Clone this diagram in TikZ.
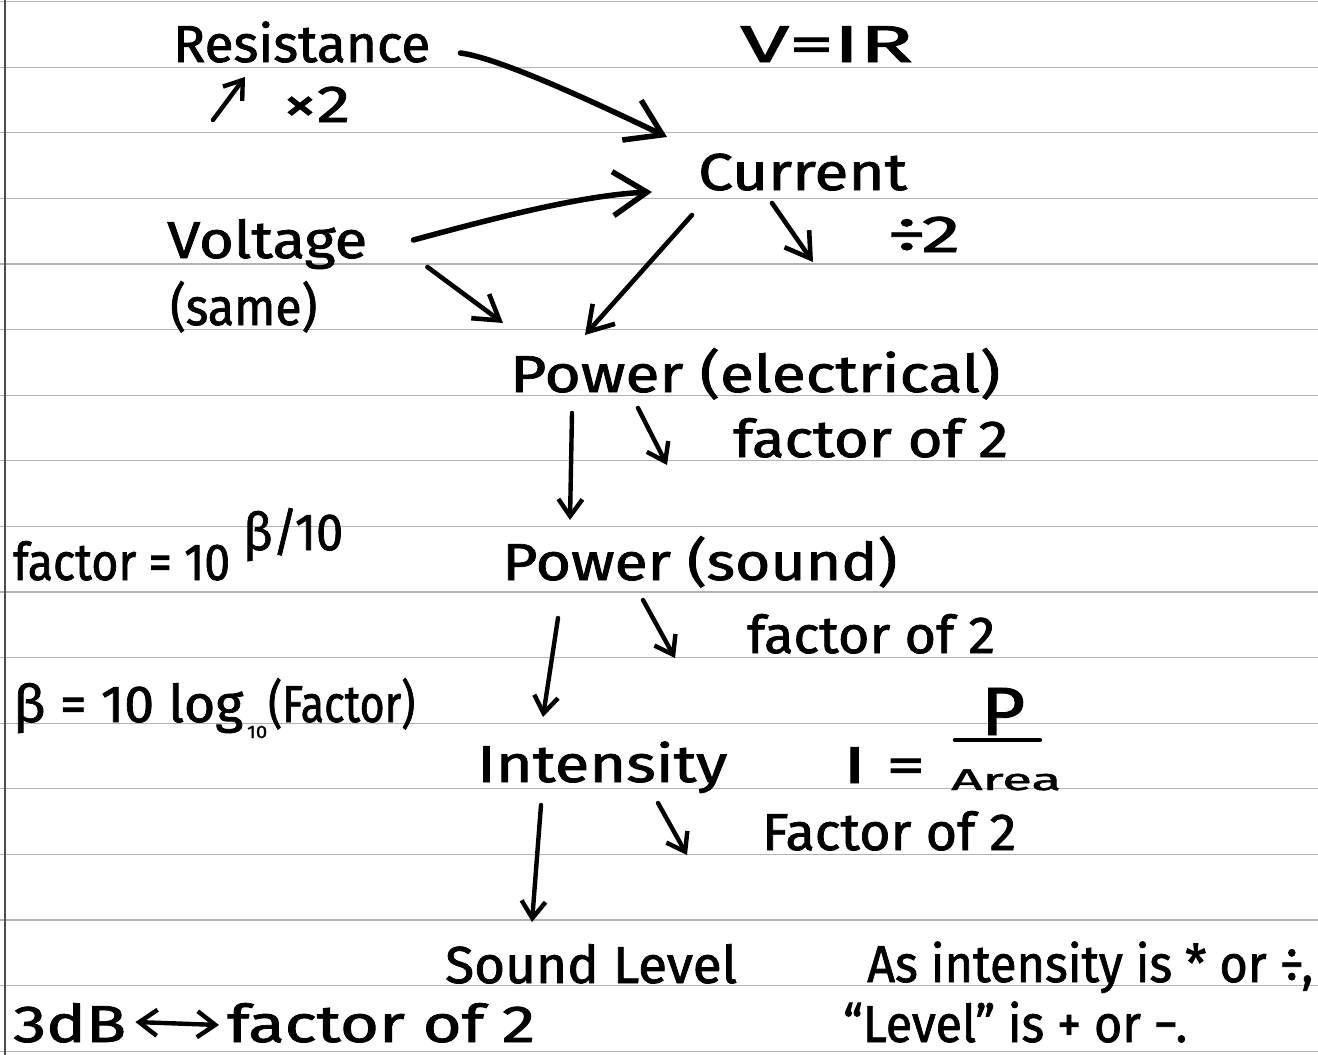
\documentclass[tikz,border=0pt]{standalone}
\usepackage{graphicx}
\usepackage{fontspec}
\setmainfont{Fira Sans}[FakeBold=1.4]
\usetikzlibrary{arrows.meta}
\newcommand\hwf{\fontsize{52pt}{60pt}\selectfont}
\newcommand\hwsmall{\fontsize{30pt}{34pt}\selectfont}
\newcommand\hwtiny{\fontsize{18pt}{20pt}\selectfont}
\newcommand\fitw[2]{\resizebox{#1pt}{\height}{#2}}
\begin{document}
\begin{tikzpicture}[x=1pt,y=-1pt,
  hw/.style={inner sep=0pt, anchor=base west, font=\hwf},
  rule/.style={gray!60, line width=1.2pt},
  bigarr/.style={line width=5.5pt, line cap=round, -{Straight Barb[length=34pt,width=44pt]}},
  medarr/.style={line width=4.6pt, line cap=round, -{Straight Barb[length=24pt,width=30pt]}},
  smallarr/.style={line width=4.4pt, line cap=round, -{Straight Barb[length=17pt,width=24pt]}},
  dblarr/.style={line width=4.4pt, line cap=round, {Straight Barb[length=18pt,width=26pt]}-{Straight Barb[length=18pt,width=26pt]}},
]
\useasboundingbox (0,0) rectangle (1318,1055);
\fill[white] (0,0) rectangle (1318,1055);
% ruled paper
\foreach \k in {0,...,16} \draw[rule] (0,{1.5+65.6*\k}) -- (1318,{1.5+65.6*\k});
\draw[line width=2pt, gray!60!black] (5,0) -- (5,1055);

% texts
\node[hw] (res) at (173,62) {\fitw{257}{Resistance}};
\node[hw] (x2) at (283,122) {\fitw{67}{×2}};
\node[hw] (vir) at (740,62) {\fitw{173}{V=IR}};
\node[hw] (cur) at (698,190) {\fitw{209}{Current}};
\node[hw] (div) at (887,252) {\fitw{73}{÷2}};
\node[hw] (volt) at (167,258) {\fitw{200}{Voltage}};
\node[hw] (same) at (170,325) {\fitw{147}{(same)}};
\node[hw] (pe) at (510,392) {\fitw{490}{Power (electrical)}};
\node[hw] (f1) at (733,457) {\fitw{275}{factor of 2}};
\node[hw] (fac) at (13,580) {\fitw{217}{factor = 10}};
\node[hw] (bexp) at (243,550) {\fitw{100}{β/10}};
\node[hw] (ps) at (502,580) {\fitw{395}{Power (sound)}};
\node[hw] (f2) at (747,653) {\fitw{248}{factor of 2}};
\node[hw] (blog) at (13,722) {\fitw{230}{β = 10 log}};
\node[hw, font=\hwtiny] (sub) at (247,738) {\fitw{20}{10}};
\node[hw] (fpar) at (268,722) {\fitw{147}{(Factor)}};
\node[hw] (int) at (477,782) {\fitw{250}{Intensity}};
\node[hw] (ieq) at (843,783) {\fitw{82}{I =}};
\node[hw] (P) at (981,735) {\resizebox{44pt}{47pt}{P}};
\node[hw, font=\hwsmall] (area) at (951,790) {\fitw{110}{Area}};
\draw[line width=4.4pt, line cap=round] (955,740) -- (1040,740);
\node[hw] (f3) at (762,850) {\fitw{254}{Factor of 2}};
\node[hw] (sl) at (445,983) {\fitw{292}{Sound Level}};
\node[hw] (as) at (867,982) {\fitw{446}{As intensity is * or ÷,}};
\node[hw] (lev) at (843,1042) {\fitw{344}{“Level” is + or −.}};
\node[hw] (tdb) at (13,1042) {\fitw{113}{3dB}};
\node[hw] (f4) at (227,1042) {\fitw{308}{factor of 2}};

% connectors
\draw[bigarr] ([shift={(30,-9)}]res.base east) .. controls (500,58) and (600,105) .. ([shift={(-31,-53)}]cur.base west);
\draw[bigarr] ([shift={(46,-18)}]volt.base east) .. controls (480,222) and (580,195) .. ([shift={(-46,2)}]cur.base west);
\draw[medarr] ([shift={(60,9)}]volt.base east) -- ([shift={(-7,-69)}]pe.base west);
\draw[medarr] ([shift={(-6,25)}]cur.base west) -- ([shift={(75,-57)}]pe.base west);
\draw[medarr] ([shift={(74,13)}]cur.base west) -- ([shift={(-74,10)}]div.base west);
\draw[smallarr] ([shift={(62,21)}]pe.base west) -- ([shift={(68,-60)}]ps.base west);
\draw[smallarr] ([shift={(128,16)}]pe.base west) -- ([shift={(-66,8)}]f1.base west);
\draw[smallarr] ([shift={(56,38)}]ps.base west) -- ([shift={(66,-65)}]int.base west);
\draw[smallarr] ([shift={(141,20)}]ps.base west) -- ([shift={(-72,5)}]f2.base west);
\draw[smallarr] ([shift={(64,23)}]int.base west) -- ([shift={(87,-61)}]sl.base west);
\draw[smallarr] ([shift={(181,21)}]int.base west) -- ([shift={(-75,5)}]f3.base west);
\draw[smallarr] ([shift={(-70,-2)}]x2.base west) -- ([shift={(-38,-45)}]x2.base west);
\draw[dblarr] ([shift={(9,-20)}]tdb.base east) -- ([shift={(-8,-17)}]f4.base west);
\end{tikzpicture}
\end{document}
